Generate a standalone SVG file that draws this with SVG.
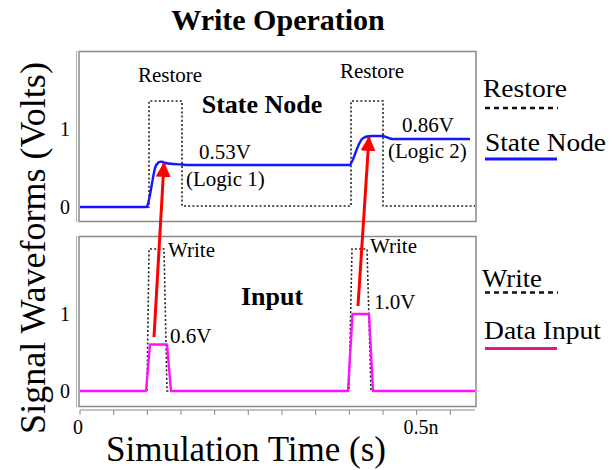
<svg xmlns="http://www.w3.org/2000/svg" width="612" height="470" viewBox="0 0 612 470">
<style>
text{font-family:"Liberation Serif","Times New Roman",serif;fill:#000}
.b{font-weight:bold}
.frame{fill:none;stroke:#8a8a8a;stroke-width:1.5}
.ax{fill:none;stroke:#b0b0b0;stroke-width:1}
.dot{fill:none;stroke:#222;stroke-width:1.6;stroke-dasharray:2 2.2}
.ldash{fill:none;stroke:#111;stroke-width:2.5;stroke-dasharray:5 4}
.blue{fill:none;stroke:#1515ff;stroke-width:2.4;stroke-linejoin:round}
.mag{fill:none;stroke:#ff10ff;stroke-width:2.4;stroke-linejoin:round}
.red{stroke:#ff0000;stroke-width:3}
.tick{stroke:#888;stroke-width:1}
</style>
<defs>
<marker id="ah" viewBox="0 0 14 14" refX="13" refY="7" markerWidth="15" markerHeight="15" markerUnits="userSpaceOnUse" orient="auto">
<path d="M0,0 L14,7 L0,14 Z" fill="#ff0000"/>
</marker>
</defs>

<text class="b" x="278" y="30" font-size="30" text-anchor="middle">Write Operation</text>

<g id="top-panel">
<rect class="frame" x="79" y="51.5" width="397" height="170"/>
<line class="ax" x1="76.5" y1="51" x2="76.5" y2="222"/>
<text x="70" y="136" font-size="20" text-anchor="end">1</text>
<text x="70" y="214" font-size="20" text-anchor="end">0</text>
<path class="dot" d="M80,207 H149 V101 H182 V206 H351 V101 H383 V206 H475"/>
<path class="blue" d="M80,207 H147 C150,200 152,180 155,168 C157,162 160,161 163,162 C166,164 170,164 182,164.5 L186,165 H350 C354,160 357,145 362,139 C365,136 368,136 372,136 H382 C385,136 387,138 392,139 H470"/>
<text x="170" y="82" font-size="21" text-anchor="middle">Restore</text>
<text x="372" y="78" font-size="21" text-anchor="middle">Restore</text>
<text class="b" x="262" y="113" font-size="26" text-anchor="middle">State Node</text>
<text x="199" y="159" font-size="21">0.53V</text>
<text x="186" y="186" font-size="21">(Logic 1)</text>
<text x="402" y="132" font-size="21">0.86V</text>
<text x="388" y="158" font-size="21">(Logic 2)</text>
</g>

<g id="bottom-panel">
<rect class="frame" x="79" y="236.5" width="397" height="170"/>
<line class="ax" x1="76.5" y1="236" x2="76.5" y2="407"/>
<text x="70" y="321" font-size="20" text-anchor="end">1</text>
<text x="70" y="398" font-size="20" text-anchor="end">0</text>
<path class="dot" d="M80,391 H147 L149,249 H164 L167,391 H349 L352,249 H367 L371,391 H475"/>
<path class="mag" d="M80,391 H146 L150,344.5 H167 L171,391 H348 L352.5,314 H369 L373,391 H475"/>
<text x="168" y="257" font-size="21">Write</text>
<text x="370" y="253" font-size="21">Write</text>
<text class="b" x="272" y="305" font-size="26" text-anchor="middle">Input</text>
<text x="170" y="343" font-size="21">0.6V</text>
<text x="374" y="309" font-size="21">1.0V</text>
</g>

<g id="x-axis">
<line class="tick" x1="80" y1="410" x2="475" y2="410"/>
<path class="tick" d="M80,410 v5 M113.7,410 v5 M147.3,410 v5 M181,410 v5 M214.7,410 v5 M248.3,410 v5 M282,410 v5 M315.7,410 v5 M349.3,410 v5 M383,410 v5 M416.7,410 v5 M450.3,410 v5"/>
<text x="78" y="434" font-size="20" text-anchor="middle">0</text>
<text x="421" y="434" font-size="20" text-anchor="middle">0.5n</text>
<text x="246" y="461" font-size="35" text-anchor="middle">Simulation Time (s)</text>
</g>

<text transform="translate(45,248) rotate(-90)" font-size="36" text-anchor="middle">Signal Waveforms (Volts)</text>

<g id="connectors">
<line class="red" x1="154" y1="337" x2="164" y2="163" marker-end="url(#ah)"/>
<line class="red" x1="358" y1="306" x2="369" y2="137" marker-end="url(#ah)"/>
</g>

<g id="legend">
<text x="483" y="97" font-size="26" textLength="84" lengthAdjust="spacingAndGlyphs">Restore</text>
<line class="ldash" x1="485" y1="108" x2="558" y2="108"/>
<text x="485" y="151" font-size="26" textLength="121" lengthAdjust="spacingAndGlyphs">State Node</text>
<line x1="485" y1="159" x2="557" y2="159" stroke="#1515ff" stroke-width="3"/>
<text x="482" y="287" font-size="26" textLength="60" lengthAdjust="spacingAndGlyphs">Write</text>
<line class="ldash" x1="485" y1="292.5" x2="558" y2="292.5"/>
<text x="484" y="339" font-size="26" textLength="117" lengthAdjust="spacingAndGlyphs">Data Input</text>
<line x1="485" y1="348.5" x2="557" y2="348.5" stroke="#e6148c" stroke-width="3"/>
</g>
</svg>
